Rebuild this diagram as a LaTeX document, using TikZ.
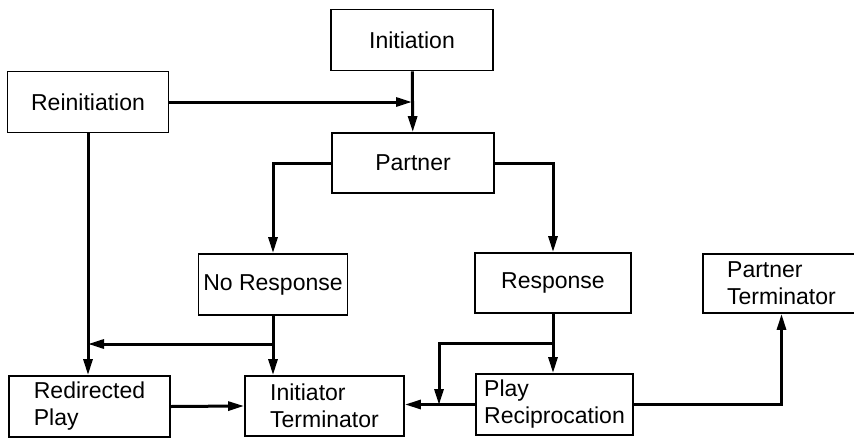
\documentclass[tikz,border=0pt]{standalone}
\usepackage{fontspec}
\setmainfont{Liberation Sans}
\usetikzlibrary{arrows.meta}

\begin{document}
\begin{tikzpicture}[x=1pt, y=-1pt,
  box/.style={draw, line width=1.8pt, align=left, minimum width=158pt, minimum height=61pt,
    inner sep=0pt, font=\fontsize{23}{27}\selectfont},
  arr/.style={line width=3pt, -{Triangle[length=16pt,width=9pt]}}]
\useasboundingbox (0,0) rectangle (854,439);

% Boxes
\node[box, minimum width=162pt] (init) at (412,40) {Initiation};
\node[box, minimum width=161pt] (reinit) at (88,102) {Reinitiation};
\node[box, minimum width=162pt, minimum height=60pt] (partner) at (413,163) {Partner};
\node[box, minimum width=149pt] (noresp) at (273,284.5) {No Response};
\node[box, minimum width=156pt, minimum height=60pt] (resp) at (553,283) {Response};
\node[box, minimum width=157pt, minimum height=59pt] (pterm) at (781.5,283.5) {Partner\\Terminator};
\node[box, minimum width=161pt] (redir) at (89.5,406.5) {Redirected\\Play};
\node[box, minimum width=159pt, minimum height=60pt] (iterm) at (324.5,406) {Initiator\\Terminator};
\node[box, minimum width=157pt] (playrec) at (554.5,404.5) {Play\\Reciprocation};

% Top
\draw[arr] (init) -- (partner);
\draw[arr] (reinit.east) -- (reinit.east -| init.south);
\draw[arr] (partner.west) -| (noresp.north);
\draw[arr] (partner.east) -| (resp.north);

% Left side
\draw[arr] (reinit.south) -- (reinit.south |- redir.north);
\draw[arr] (noresp.south) -- (noresp.south |- iterm.north);
\draw[arr] (noresp.south |- 0,344) -- (reinit.south |- 0,344);
\draw[arr] (redir.east) -- (iterm.west);

% Right side
\coordinate (join) at (439,405);
\draw[arr] (resp.south) -- (resp.south |- playrec.north);
\draw[arr] (resp.south |- 0,343) -| (join);
\draw[arr] (playrec.west) -- (playrec.west -| iterm.east);
\draw[arr] (playrec.east) -| (pterm.south);
\end{tikzpicture}
\end{document}
